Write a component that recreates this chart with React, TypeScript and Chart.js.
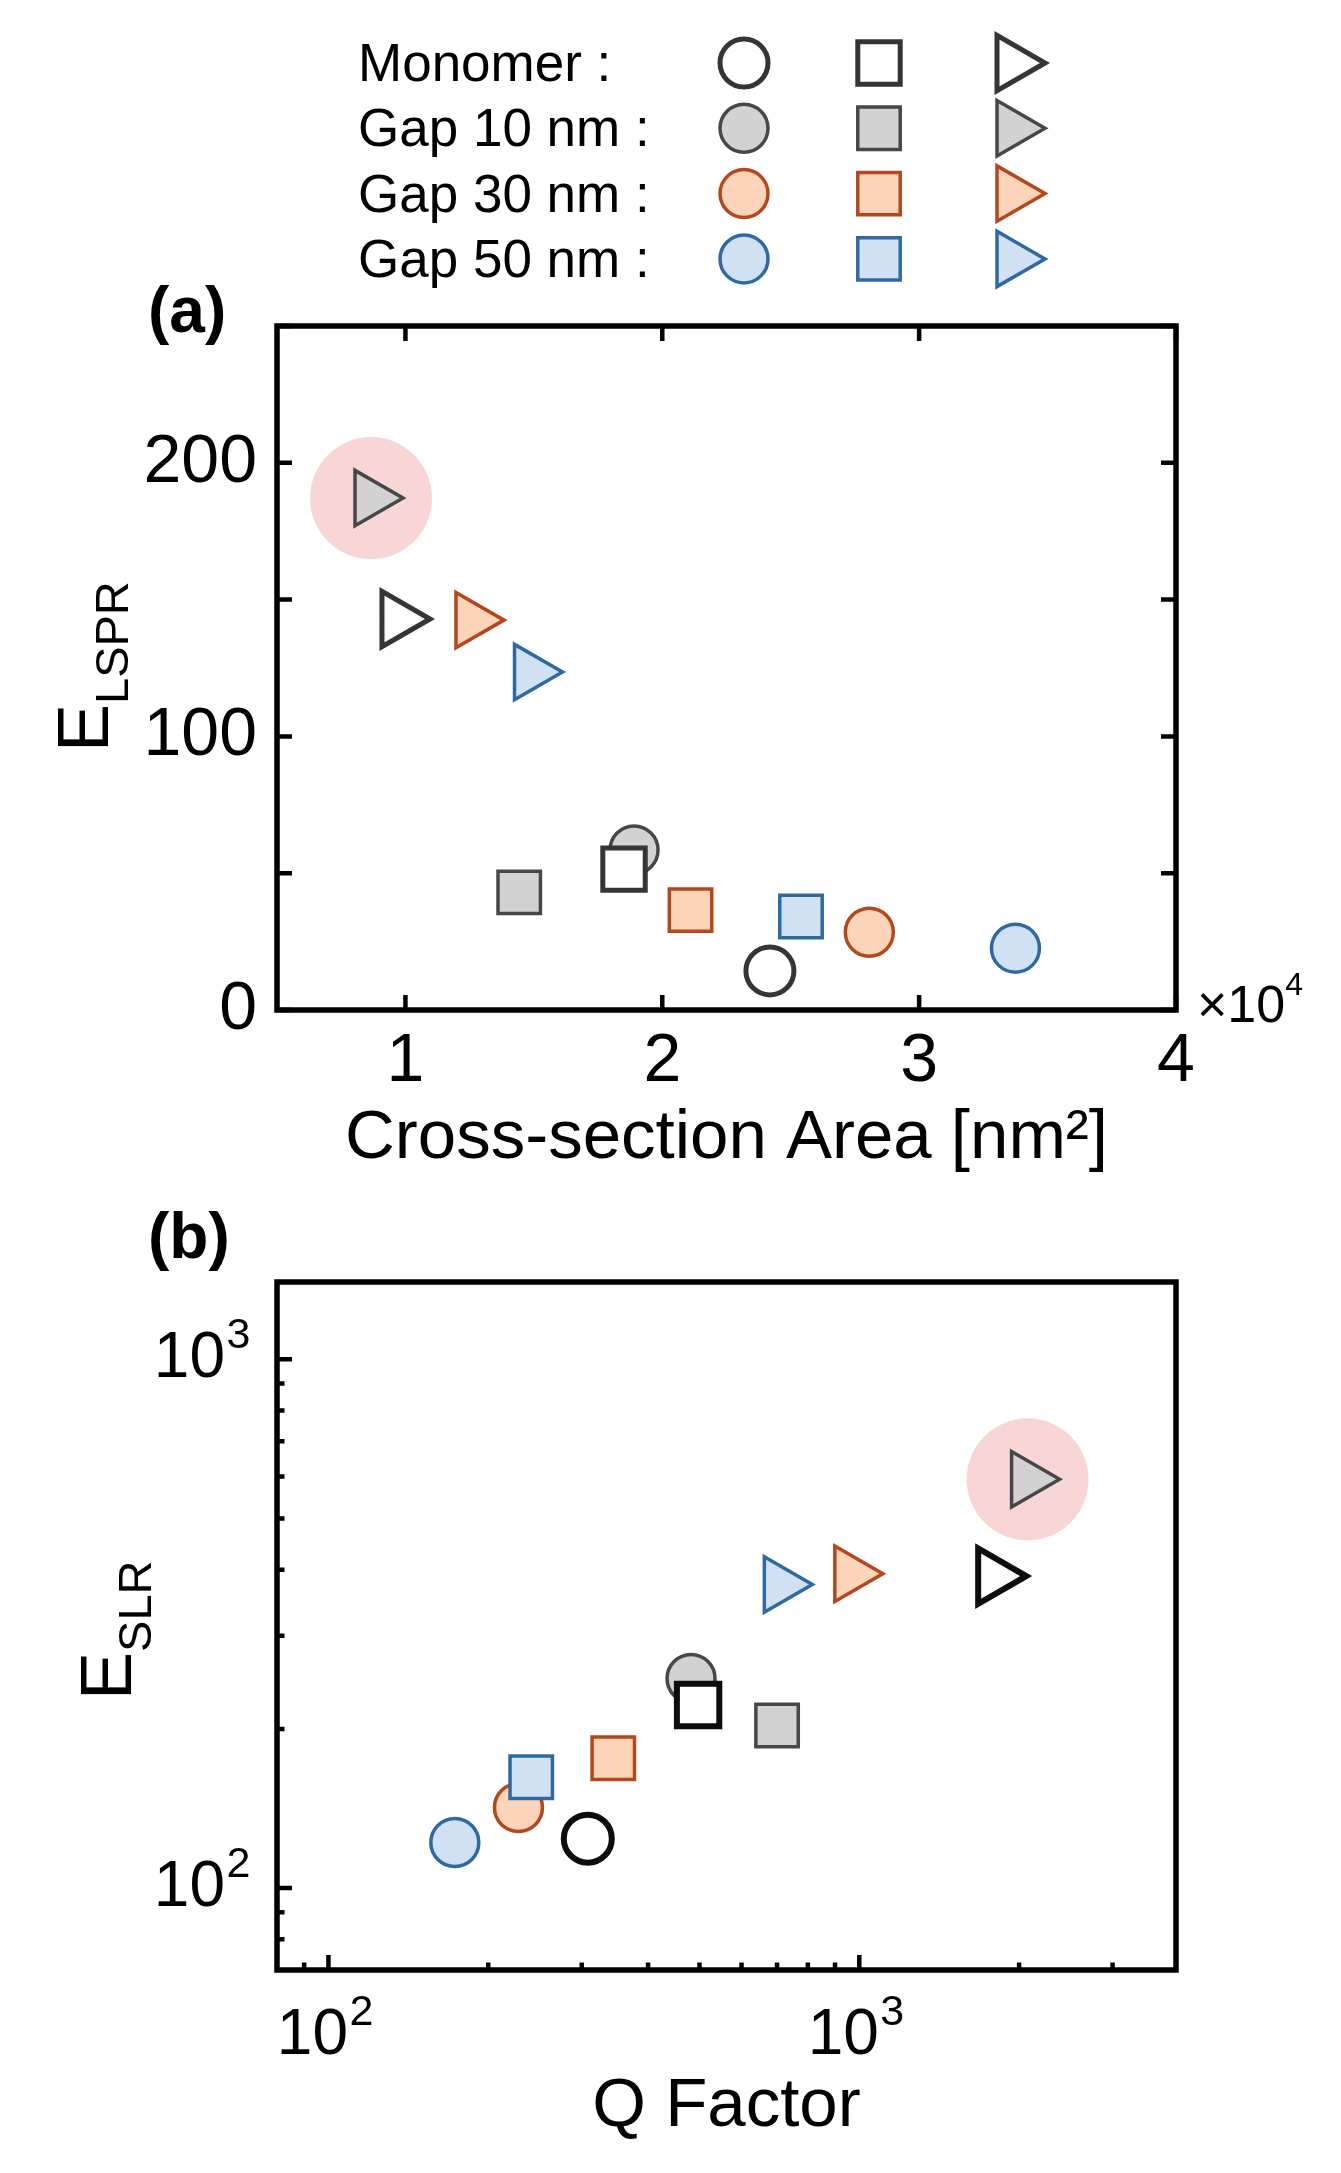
import React, { useEffect, useRef } from 'react';
import { Chart, registerables } from 'chart.js';
import { drawPoint } from 'chart.js/helpers';

Chart.register(...registerables);

const FONT = "'Liberation Sans', Arial, Helvetica, sans-serif";
Chart.defaults.font.family = FONT;
Chart.defaults.color = '#000';

// ---------------- data ----------------
const groups = ['Monomer', 'Gap 10 nm', 'Gap 30 nm', 'Gap 50 nm'];

// Panel (a): cross-section area [nm²] vs E_LSPR
const areaCircle = [24190, 18900, 28060, 33750];
const areaSquare = [18510, 14430, 21100, 25400];
const areaTriangle = [9710, 8660, 12590, 14870];
const eLsprCircle = [14.3, 58.5, 28.4, 22.6];
const eLsprSquare = [51.5, 43.0, 36.5, 34.2];
const eLsprTriangle = [142.9, 187.1, 142.5, 123.5];

// Panel (b): Q factor vs E_SLR
const qCircle = [308, 482, 228, 173];
const qSquare = [497, 700, 344, 241];
const qTriangle = [1795, 2075, 964, 710];
const eSlrCircle = [124, 249, 142, 122];
const eSlrSquare = [222, 203, 176, 162];
const eSlrTriangle = [389, 593, 393, 375];

const highlightIndex = 1; // Gap 10 nm triangle is highlighted in both panels

// ticks
const xTicksA = [10000, 20000, 30000, 40000];
const yTicksA = [0, 50, 100, 150, 200, 250];
const yLabelsA = [0, 100, 200];
const xMajorB = [100, 1000];
const xMinorB = [90, 200, 300, 400, 500, 600, 700, 800, 900, 2000, 3000];
const yMajorB = [100, 1000];
const yMinorB = [80, 90, 200, 300, 400, 500, 600, 700, 800, 900];

// ---------------- styles ----------------
const fillColors = ['#ffffff', '#d2d2d2', '#fbd4b9', '#cfe1f2'];
const strokeA = ['#353535', '#474747', '#b3481d', '#3069a2'];
const strokeB = ['#0d0d0d', '#474747', '#b3481d', '#3069a2'];
const widthsA = [5, 3.5, 3.5, 3.5];
const widthsB = [6, 3.5, 3.5, 3.5];
const HIGHLIGHT = '#f9d6d6';

const CIRCLE = { style: 'circle', radius: 24, rotation: 0 };
const SQUARE = { style: 'rect', radius: 30, rotation: 0 };
const TRIANGLE = { style: 'triangle', radius: 32, rotation: 90 };
const SHAPES = [CIRCLE, SQUARE, TRIANGLE];

const LOG_BASE_SIZE = 64;
const LOG_EXP_SIZE = 43;

function markerDataset(label: string, xs: number[], ys: number[], shape: any, strokes: string[], widths: number[], order: number) {
  return {
    label,
    data: xs.map((x, i) => ({ x, y: ys[i] })),
    pointStyle: shape.style,
    pointRadius: shape.radius,
    pointHoverRadius: shape.radius,
    pointRotation: shape.rotation,
    pointBackgroundColor: fillColors,
    pointBorderColor: strokes,
    pointBorderWidth: widths,
    showLine: false,
    order,
  };
}

function highlightDataset(x: number, y: number) {
  return {
    label: 'highlight',
    data: [{ x, y }],
    pointStyle: 'circle',
    pointRadius: 61,
    pointHoverRadius: 61,
    pointBackgroundColor: HIGHLIGHT,
    pointBorderColor: HIGHLIGHT,
    pointBorderWidth: 0,
    showLine: false,
    order: 9,
  };
}

// box + inward tick marks, drawn from the chart's own scales
const framePlugin = {
  id: 'frame',
  afterDraw(chart: any, _args: any, opts: any) {
    const { ctx, chartArea: a } = chart;
    const xs = chart.scales.x;
    const ys = chart.scales.y;
    ctx.save();
    ctx.strokeStyle = '#000';
    ctx.lineCap = 'butt';
    ctx.lineWidth = opts.tickWidth;
    ctx.beginPath();
    for (const t of xs.ticks) {
      const p = xs.getPixelForValue(t.value);
      const len = t.minor ? opts.minorLen : opts.majorLen;
      ctx.moveTo(p, a.bottom);
      ctx.lineTo(p, a.bottom - len);
      if (opts.mirror) {
        ctx.moveTo(p, a.top);
        ctx.lineTo(p, a.top + len);
      }
    }
    for (const t of ys.ticks) {
      const p = ys.getPixelForValue(t.value);
      const len = t.minor ? opts.minorLen : opts.majorLen;
      ctx.moveTo(a.left, p);
      ctx.lineTo(a.left + len, p);
      if (opts.mirror) {
        ctx.moveTo(a.right, p);
        ctx.lineTo(a.right - len, p);
      }
    }
    ctx.stroke();
    ctx.lineWidth = opts.lineWidth;
    ctx.lineJoin = 'miter';
    ctx.strokeRect(a.left, a.top, a.right - a.left, a.bottom - a.top);
    ctx.restore();
  },
};

// exponents of the "10^n" log tick labels (base "10" is drawn by Chart.js)
const exponentPlugin = {
  id: 'exponents',
  afterDraw(chart: any, _args: any, opts: any) {
    const ctx = chart.ctx;
    const baseFont = `${opts.baseSize}px ${FONT}`;
    const expFont = `${opts.expSize}px ${FONT}`;
    ctx.save();
    ctx.fillStyle = '#000';
    ctx.font = baseFont;
    ctx.textBaseline = 'middle';
    const m = ctx.measureText('10');
    const baseW = m.width;
    const toBaseline = m.actualBoundingBoxDescent;
    const rightInk = m.actualBoundingBoxRight - baseW; // right bearing (negative)
    ctx.font = expFont;
    ctx.textBaseline = 'alphabetic';
    ctx.textAlign = 'left';
    const xs = chart.scales.x;
    const xt = xs.options.ticks;
    const lh = opts.baseSize * 1.2;
    for (const t of xs.ticks) {
      if (t.minor) continue;
      const p = xs.getPixelForValue(t.value) + xt.labelOffset;
      const mid = xs.top + xt.padding + lh / 2;
      const exp = String(Math.round(Math.log10(t.value)));
      ctx.fillText(exp, p + baseW / 2 + rightInk + opts.gap, mid + toBaseline - opts.raise);
    }
    const ys = chart.scales.y;
    const yt = ys.options.ticks;
    for (const t of ys.ticks) {
      if (t.minor) continue;
      const p = ys.getPixelForValue(t.value);
      const right = ys.right - yt.padding;
      const exp = String(Math.round(Math.log10(t.value)));
      ctx.fillText(exp, right + rightInk + opts.gap, p + toBaseline - opts.raise);
    }
    ctx.restore();
  },
};

// marker grid legend (top of panel a)
const legendX = [744, 879, 1013];
const legendY0 = 63;
const legendDY = 65.3;
const legendPlugin = {
  id: 'markerLegend',
  afterDraw(chart: any) {
    const ctx = chart.ctx;
    groups.forEach((_g, i) => {
      SHAPES.forEach((s, j) => {
        ctx.save();
        ctx.fillStyle = fillColors[i];
        ctx.strokeStyle = strokeA[i];
        ctx.lineWidth = widthsA[i];
        drawPoint(ctx, { pointStyle: s.style, radius: s.radius, rotation: s.rotation, borderWidth: widthsA[i] } as any, legendX[j], legendY0 + i * legendDY);
        ctx.restore();
      });
    });
  },
};

const fixX = (h: number) => (s: any) => {
  s.height = h;
  s.paddingLeft = 0;
  s.paddingRight = 0;
};
const fixY = (w: number) => (s: any) => {
  s.width = w;
  s.paddingTop = 0;
  s.paddingBottom = 0;
};

function configA(): any {
  return {
    type: 'scatter',
    data: {
      datasets: [
        highlightDataset(areaTriangle[highlightIndex], eLsprTriangle[highlightIndex]),
        markerDataset('circle', areaCircle, eLsprCircle, CIRCLE, strokeA, widthsA, 3),
        markerDataset('square', areaSquare, eLsprSquare, SQUARE, strokeA, widthsA, 2),
        markerDataset('triangle', areaTriangle, eLsprTriangle, TRIANGLE, strokeA, widthsA, 1),
      ],
    },
    options: {
      responsive: false,
      animation: false,
      events: [],
      layout: { padding: { left: 0, right: 165, top: 326, bottom: 0 } },
      plugins: {
        legend: { display: false },
        tooltip: { enabled: false },
        frame: { lineWidth: 5.5, tickWidth: 4.5, majorLen: 15, minorLen: 15, mirror: true },
      },
      scales: {
        x: {
          type: 'linear',
          min: 5000,
          max: 40000,
          bounds: 'data',
          grid: { display: false, drawTicks: false },
          border: { display: false },
          afterBuildTicks: (s: any) => {
            s.ticks = xTicksA.map((v) => ({ value: v }));
          },
          afterFit: fixX(190),
          ticks: {
            autoSkip: false,
            maxRotation: 0,
            padding: 11,
            color: '#000',
            font: { size: 68, family: FONT },
            callback: (v: number) => String(v / 1e4),
          },
          title: {
            display: true,
            text: 'Cross-section Area [nm²]',
            color: '#000',
            font: { size: 69, family: FONT },
            padding: { top: 0, bottom: 19.6 },
          },
        },
        y: {
          type: 'linear',
          min: 0,
          max: 250,
          bounds: 'data',
          grid: { display: false, drawTicks: false },
          border: { display: false },
          afterBuildTicks: (s: any) => {
            s.ticks = yTicksA.map((v) => ({ value: v }));
          },
          afterFit: fixY(277),
          ticks: {
            autoSkip: false,
            padding: 20,
            color: '#000',
            font: { size: 68, family: FONT },
            callback: (v: number) => (yLabelsA.includes(v) ? String(v) : ''),
          },
        },
      },
    },
    plugins: [framePlugin, legendPlugin],
  };
}

function configB(): any {
  const logTicks = (major: number[], minor: number[]) =>
    [...major.map((v) => ({ value: v })), ...minor.map((v) => ({ value: v, minor: true }))].sort((p, q) => p.value - q.value);
  return {
    type: 'scatter',
    data: {
      datasets: [
        highlightDataset(qTriangle[highlightIndex], eSlrTriangle[highlightIndex]),
        markerDataset('circle', qCircle, eSlrCircle, CIRCLE, strokeB, widthsB, 3),
        markerDataset('square', qSquare, eSlrSquare, SQUARE, strokeB, widthsB, 2),
        markerDataset('triangle', qTriangle, eSlrTriangle, TRIANGLE, strokeB, widthsB, 1),
      ],
    },
    options: {
      responsive: false,
      animation: false,
      events: [],
      layout: { padding: { left: 0, right: 165, top: 82, bottom: 0 } },
      plugins: {
        legend: { display: false },
        tooltip: { enabled: false },
        frame: { lineWidth: 5.5, tickWidth: 4.5, majorLen: 15, minorLen: 7.5, mirror: false },
        exponents: { baseSize: LOG_BASE_SIZE, expSize: LOG_EXP_SIZE, raise: 30, gap: 3 },
      },
      scales: {
        x: {
          type: 'logarithmic',
          min: 80,
          max: 3950,
          bounds: 'data',
          grid: { display: false, drawTicks: false },
          border: { display: false },
          afterBuildTicks: (s: any) => {
            s.ticks = logTicks(xMajorB, xMinorB);
          },
          afterFit: fixX(203),
          ticks: {
            autoSkip: false,
            maxRotation: 0,
            padding: 28,
            labelOffset: -16,
            color: '#000',
            font: { size: LOG_BASE_SIZE, family: FONT },
            callback: (v: number) => (xMajorB.includes(v) ? '10' : ''),
          },
          title: {
            display: true,
            text: 'Q Factor',
            color: '#000',
            font: { size: 69, family: FONT },
            padding: { top: 0, bottom: 24.6 },
          },
        },
        y: {
          type: 'logarithmic',
          min: 70,
          max: 1400,
          bounds: 'data',
          grid: { display: false, drawTicks: false },
          border: { display: false },
          afterBuildTicks: (s: any) => {
            s.ticks = logTicks(yMajorB, yMinorB);
          },
          afterFit: fixY(277),
          ticks: {
            autoSkip: false,
            padding: 52,
            color: '#000',
            font: { size: LOG_BASE_SIZE, family: FONT },
            callback: (v: number) => (yMajorB.includes(v) ? '10' : ''),
          },
        },
      },
    },
    plugins: [framePlugin, exponentPlugin],
  };
}

const abs = (extra: any): any => ({ position: 'absolute', lineHeight: 1, whiteSpace: 'pre', margin: 0, ...extra });

export default function App() {
  const refA = useRef<HTMLCanvasElement>(null);
  const refB = useRef<HTMLCanvasElement>(null);

  useEffect(() => {
    document.body.style.margin = '0';
    const a = new Chart(refA.current as HTMLCanvasElement, configA());
    const b = new Chart(refB.current as HTMLCanvasElement, configB());
    return () => {
      a.destroy();
      b.destroy();
    };
  }, []);

  return (
    <div style={{ position: 'absolute', left: 0, top: 0, width: 1341, height: 2173, background: '#fff', fontFamily: FONT, color: '#000', overflow: 'hidden' }}>
      <canvas ref={refA} width={1341} height={1200} style={{ position: 'absolute', left: 0, top: 0, width: 1341, height: 1200 }} />
      <canvas ref={refB} width={1341} height={973} style={{ position: 'absolute', left: 0, top: 1200, width: 1341, height: 973 }} />

      {groups.map((g, i) => (
        <div key={g} style={abs({ left: 358, top: 36.1 + i * legendDY, fontSize: 53 })}>
          {g + ' :'}
        </div>
      ))}

      <div style={abs({ left: 148, top: 278, fontSize: 64, fontWeight: 'bold' })}>(a)</div>
      <div style={abs({ left: 148, top: 1204, fontSize: 64, fontWeight: 'bold' })}>(b)</div>

      <div style={abs({ left: 1197, top: 978, fontSize: 52 })}>
        ×10<span style={{ fontSize: 32, position: 'relative', top: -27 }}>4</span>
      </div>

      <div style={abs({ left: 46.5, top: 751.7, fontSize: 72, transformOrigin: '0 0', transform: 'rotate(-90deg)' })}>
        E<span style={{ fontSize: 47, position: 'relative', top: 19.5 }}>LSPR</span>
      </div>
      <div style={abs({ left: 69.7, top: 1699.7, fontSize: 72, transformOrigin: '0 0', transform: 'rotate(-90deg)' })}>
        E<span style={{ fontSize: 47, position: 'relative', top: 19.8 }}>SLR</span>
      </div>
    </div>
  );
}
